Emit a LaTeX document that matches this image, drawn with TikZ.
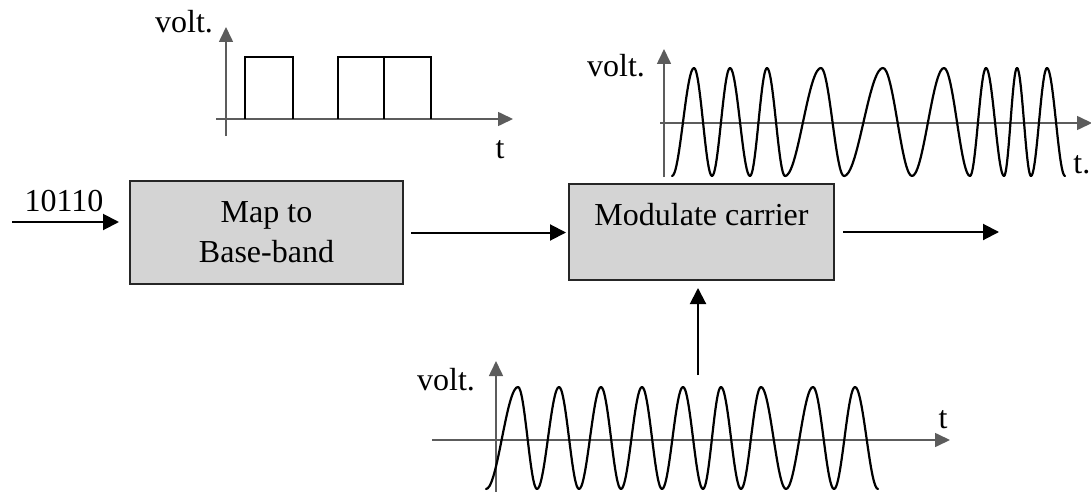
\documentclass[tikz,border=0pt]{standalone}
\usepackage{fontspec}
\setmainfont{Liberation Serif}
\usetikzlibrary{arrows.meta}
\usetikzlibrary{calc}
\definecolor{AxisGray}{HTML}{5C5C5C}
\definecolor{BoxGray}{HTML}{D4D4D4}

\begin{document}
\begin{tikzpicture}[x=0.5pt, y=-0.5pt,
  every node/.style={font=\fontsize{16}{20}\selectfont, inner sep=0pt},
  block/.style={draw=black!85, line width=1pt, fill=BoxGray, align=center},
  arr/.style={line width=1pt, -{Triangle[length=8pt,width=8pt]}},
  axis/.style={AxisGray, line width=0.8pt, -{Triangle[length=7.5pt,width=7pt]}},
  pulse/.style={line width=0.9pt},
  wave/.style={line width=1.1pt, line cap=round}]

  \useasboundingbox (0,0) rectangle (1091,492);

  % blocks
  \node[block, minimum width=136.5pt, minimum height=51.5pt] (MapBox) at (266.5,232.5)
    {Map to\\Base-band};
  \node[block, minimum width=132.5pt, text height=20.5pt, text depth=27.5pt] (ModBox) at (701.5,232)
    {Modulate carrier};

  \coordinate (BitsIn)    at (12,222);
  \coordinate (ModOut)    at (999,232);
  \coordinate (CarrierIn) at (698,375);

  \node[anchor=base] (Bits) at (64,211) {10110};

  \draw[arr, shorten >=5pt] (BitsIn) -- (BitsIn -| MapBox.west);
  \draw[arr, shorten <=3.5pt, shorten >=1pt] (MapBox.east) -- (MapBox.east -| ModBox.west);
  \draw[arr, shorten <=4pt] (ModOut -| ModBox.east) -- (ModOut);
  \draw[arr, shorten >=3.5pt] (CarrierIn) -- (CarrierIn |- ModBox.south);

  % base-band signal
  \draw[axis] (226,136) -- (226,27);
  \draw[axis] (216,119) -- (513,119);
  \foreach \a/\b in {245/293, 338/384, 384/431}{%
    \draw[pulse] (\a,119) |- (\b,57) -- (\b,119);
  }
  \node[anchor=base] (VoltA) at (184,33) {volt.};
  \node[anchor=base] (TimeA) at (500,158) {t};

  % modulated signal
  \draw[axis] (664,177) -- (664,49);
  \draw[axis] (660,123) -- (1092,123);
  \foreach \a/\b/\s in {672/694/1, 694/712/-1, 712/730/1, 730/750/-1,
      750/767/1, 767/785/-1, 785/821/1, 821/844/-1, 844/883/1, 883/912/-1,
      912/944/1, 944/970/-1, 970/986/1, 986/1004/-1, 1004/1017/1,
      1017/1031/-1, 1031/1047/1, 1047/1065/-1}{%
    \draw[wave] plot[domain=0:180, samples=19, smooth]
      ({\a+(\b-\a)*\x/180},{122+\s*54*cos(\x)});
  }
  \node[anchor=base] (VoltB) at (616,76) {volt.};
  \node[anchor=base west] (TimeB) at (1073,173) {t.};

  % carrier
  \draw[axis] (496,495) -- (496,361);
  \draw[axis] (432,440) -- (950,440);
  \foreach \a/\b/\s in {486/518/1, 518/537/-1, 537/559/1, 559/579/-1,
      579/601/1, 601/621/-1, 621/642/1, 642/662/-1, 662/683/1, 683/703/-1,
      703/721/1, 721/741/-1, 741/761/1, 761/786/-1, 786/813/1, 813/834/-1,
      834/855/1, 855/878/-1}{%
    \draw[wave] plot[domain=0:180, samples=19, smooth]
      ({\a+(\b-\a)*\x/180},{438+\s*51*cos(\x)});
  }
  \node[anchor=base] (VoltC) at (446,390) {volt.};
  \node[anchor=base] (TimeC) at (943,428) {t};
\end{tikzpicture}
\end{document}
